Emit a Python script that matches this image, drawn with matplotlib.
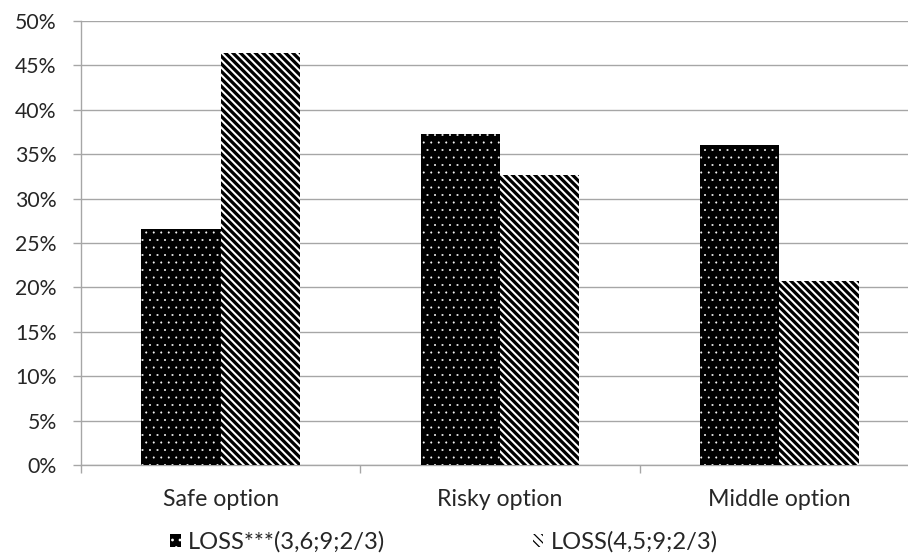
import numpy as np
import matplotlib
matplotlib.use('Agg')
import matplotlib.pyplot as plt
from matplotlib.patches import Patch

categories = ['Safe option', 'Risky option', 'Middle option']
loss_36 = [26.6, 37.3, 36.0]
loss_45 = [46.4, 32.7, 20.7]
series_labels = ['LOSS***(3,6;9;2/3)', 'LOSS(4,5;9;2/3)']
yticks = np.arange(0, 51, 5)

plt.rcParams['font.family'] = ['Lato', 'DejaVu Sans']

dpi = 90
fig = plt.figure(figsize=(908/dpi, 558/dpi), dpi=dpi)
ax = fig.add_axes([81/908, 93/558, 838/908, 444/558])

x = np.arange(len(categories))
w = 0.284
grid_c = '#a6a6a6'
dots = '..'
stripes = '\\' * 4

# dotted black bars get a thin hatch stroke, striped ones a thick one
with plt.rc_context({'hatch.linewidth': 0.35}):
    b1 = ax.bar(x - w/2, loss_36, w, color='black', edgecolor='white', hatch=dots, linewidth=0, zorder=3)
    h1 = Patch(facecolor='black', edgecolor='white', hatch=dots, linewidth=0)
with plt.rc_context({'hatch.linewidth': 2.6}):
    b2 = ax.bar(x + w/2, loss_45, w, color='white', edgecolor='black', hatch=stripes, linewidth=0, zorder=3)
    h2 = Patch(facecolor='white', edgecolor='black', hatch=stripes, linewidth=0)

ax.set_xlim(-0.5, 2.5)
ax.set_ylim(0, 50)
ax.set_yticks(yticks)
ax.set_yticklabels(['%d%%' % v for v in yticks])
ax.yaxis.grid(True, color=grid_c, linewidth=1.1, zorder=0)

ax.set_xticks([-0.5, 0.5, 1.5, 2.5])
ax.set_xticklabels([])
ax.set_xticks(x, minor=True)
ax.set_xticklabels(categories, minor=True)
ax.tick_params(axis='x', which='minor', length=0, pad=19, labelsize=18.5)
ax.tick_params(axis='x', which='major', length=6.4, color=grid_c, width=1.1)
ax.tick_params(axis='y', length=6.4, color=grid_c, width=1.1, pad=13, labelsize=17)
ax.tick_params(which='both', labelcolor='#262626')

for s in ['top', 'right']:
    ax.spines[s].set_visible(False)
for s in ['left', 'bottom']:
    ax.spines[s].set_color(grid_c)
    ax.spines[s].set_linewidth(1.1)

fig.legend([h1, h2], series_labels, loc='center', bbox_to_anchor=(444/908, 1 - 542/558),
           ncol=2, frameon=False, fontsize=19, handlelength=0.45, handleheight=0.45,
           handletextpad=0.3, columnspacing=6.2, labelcolor='#262626')

fig.savefig('out.png', dpi=dpi)
